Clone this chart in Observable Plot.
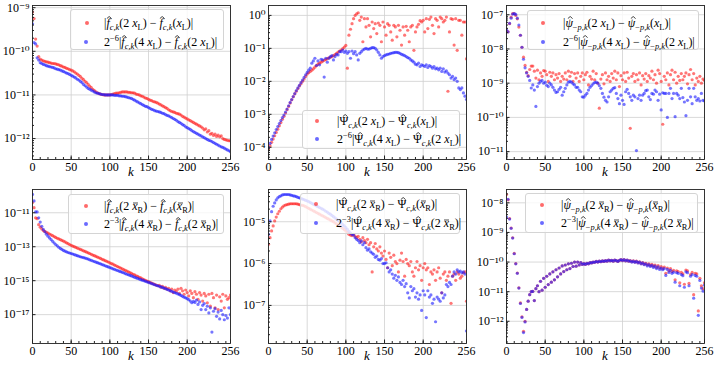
<!DOCTYPE html>
<html><head><meta charset="utf-8">
<script src="https://cdn.jsdelivr.net/npm/d3@7"></script>
<script src="https://cdn.jsdelivr.net/npm/@observablehq/plot@0.6"></script>
<style>
html,body{margin:0;padding:0;background:#fff;}
#root{position:relative;width:714px;height:369px;overflow:hidden;font-family:'Liberation Serif','DejaVu Serif',serif;color:#000;}
.panel{position:absolute;width:238px;height:184px;}
.panel svg{display:block;}
.legend{position:absolute;background:rgba(255,255,255,0.8);border:1px solid #d4d4d4;border-radius:3px;box-sizing:border-box;}
.row{position:absolute;white-space:nowrap;font-size:12px;line-height:1;transform:translateY(-50%);}
.row sub,.row sup{font-size:70%;line-height:0;}
.ht{position:relative;display:inline-block;}
.ht svg.hs{position:absolute;left:50%;top:-1px;transform:translateX(-30%);display:block;}
.ht svg.bs{position:absolute;left:50%;top:2px;transform:translateX(-40%);display:block;}
.dot{position:absolute;width:4px;height:4px;border-radius:50%;transform:translate(-50%,-50%);}
.klab{position:absolute;font-style:italic;font-size:13px;transform:translateX(-50%);}
</style>
</head><body><div id="root"></div>
<script>
// x ticks and mode index (every second mode k = 0,2,...,256)
const xTicks = [0, 50, 100, 150, 200, 256];
const xMinor = d3.range(0, 257, 10);
const kIdx = d3.range(0, 257, 2);

// ---- values are log10 of the plotted quantity ----
const p1Red = [-9.1,-9.25,-9.72,-9.88,-10.12,-10.18,-10.2,-10.22,-10.23,-10.24,
-10.25,-10.26,-10.27,-10.28,-10.28,-10.29,-10.3,-10.31,-10.33,-10.34,
-10.36,-10.37,-10.39,-10.4,-10.42,-10.43,-10.45,-10.47,-10.5,-10.52,
-10.55,-10.58,-10.62,-10.65,-10.69,-10.72,-10.76,-10.8,-10.83,-10.87,
-10.9,-10.93,-10.95,-10.97,-10.98,-10.99,-11.0,-11.0,-11.0,-11.0,
-11.0,-10.99,-10.98,-10.97,-10.96,-10.96,-10.95,-10.94,-10.93,-10.93,
-10.93,-10.93,-10.94,-10.94,-10.95,-10.95,-10.96,-10.98,-10.99,-11.0,
-11.02,-11.03,-11.05,-11.07,-11.08,-11.1,-11.12,-11.13,-11.15,-11.16,
-11.17,-11.19,-11.21,-11.23,-11.25,-11.27,-11.29,-11.31,-11.34,-11.36,
-11.38,-11.39,-11.4,-11.42,-11.43,-11.44,-11.46,-11.49,-11.51,-11.53,
-11.55,-11.57,-11.59,-11.61,-11.63,-11.65,-11.67,-11.69,-11.71,-11.73,
-11.76,-11.8,-11.78,-11.85,-11.82,-11.9,-11.88,-11.93,-11.9,-11.95,
-11.92,-11.96,-11.94,-12.0,-12.02,-12.03,-12.04,-12.05,-12.05];
const p1Blue = [-9.37,-9.8,-9.83,-10.15,-10.2,-10.26,-10.28,-10.3,-10.31,-10.33,
-10.34,-10.35,-10.36,-10.37,-10.38,-10.4,-10.41,-10.42,-10.43,-10.45,
-10.46,-10.48,-10.5,-10.51,-10.53,-10.55,-10.57,-10.59,-10.61,-10.64,
-10.66,-10.69,-10.72,-10.76,-10.79,-10.82,-10.85,-10.87,-10.89,-10.91,
-10.93,-10.95,-10.96,-10.97,-10.98,-10.99,-10.99,-11.0,-11.0,-11.0,
-11.0,-11.0,-11.0,-11.01,-11.01,-11.01,-11.02,-11.02,-11.03,-11.03,
-11.04,-11.05,-11.06,-11.07,-11.08,-11.1,-11.12,-11.14,-11.16,-11.18,
-11.2,-11.22,-11.24,-11.26,-11.27,-11.29,-11.31,-11.33,-11.34,-11.36,
-11.37,-11.38,-11.39,-11.4,-11.42,-11.43,-11.45,-11.47,-11.48,-11.5,
-11.52,-11.54,-11.56,-11.58,-11.61,-11.63,-11.65,-11.68,-11.7,-11.73,
-11.75,-11.77,-11.79,-11.82,-11.84,-11.86,-11.88,-11.9,-11.92,-11.94,
-11.96,-11.98,-12.0,-12.02,-12.04,-12.05,-12.07,-12.09,-12.11,-12.13,
-12.15,-12.17,-12.19,-12.2,-12.22,-12.24,-12.26,-12.28,-12.3];

const p2Red = [-4.05,-3.95,-3.85,-3.75,-3.65,-3.55,-3.45,-3.35,-3.25,-3.15,
-3.06,-2.96,-2.86,-2.76,-2.66,-2.56,-2.47,-2.38,-2.3,-2.22,
-2.14,-2.07,-2.0,-1.93,-1.85,-1.78,-1.74,-1.7,-1.66,-1.62,
-1.57,-1.52,-1.48,-1.45,-1.42,-1.39,-1.36,-1.34,-1.31,-1.29,
-1.27,-1.25,-1.22,-1.19,-1.15,-1.11,-1.08,-1.05,-1.01,-0.96,
-0.91,-1.6,-0.6,-0.42,-0.25,-0.1,0.0,0.05,0.08,-0.15,
-0.05,-0.8,-0.1,-0.35,-0.1,-0.3,-0.65,-0.2,-0.4,-0.25,
-0.55,-0.23,-0.3,-0.8,-0.2,-0.35,-0.6,-0.25,-0.3,-0.5,
-0.75,-0.3,-0.35,-0.65,-0.3,-0.45,-0.9,-0.35,-0.6,-0.33,
-0.45,-0.8,-0.35,-0.3,-1.06,-0.5,-0.35,-0.27,-0.16,-0.2,
-0.15,-0.5,-0.1,-0.4,-0.12,-0.05,-0.3,-0.55,-0.1,-0.15,
-0.35,-0.05,-0.1,-0.2,-0.15,-0.05,-2.3,-0.5,-0.1,-0.12,
-0.9,-0.1,-1.06,-0.15,-0.15,-0.6,-0.2,-0.2,-1.32];
const p2Blue = [-4.0,-3.88,-3.76,-3.66,-3.56,-3.46,-3.37,-3.28,-3.19,-3.1,
-3.02,-2.93,-2.84,-2.74,-2.64,-2.55,-2.46,-2.37,-2.28,-2.2,
-2.12,-2.04,-1.96,-1.88,-1.8,-1.73,-1.66,-1.6,-1.45,-1.38,
-1.3,-1.52,-1.38,-1.5,-1.33,-1.35,-1.87,-1.3,-1.42,-1.3,
-1.25,-1.22,-1.35,-1.25,-1.18,-1.2,-1.1,-1.1,-1.05,-1.12,
-1.08,-1.15,-1.1,-1.3,-1.08,-1.16,-1.1,-1.2,-1.35,-1.15,
-1.1,-1.05,-1.02,-1.0,-1.02,-1.02,-1.0,-0.98,-0.98,-1.0,
-1.05,-1.12,-1.2,-1.3,-1.25,-1.22,-1.2,-1.18,-1.17,-1.15,
-1.14,-1.13,-1.12,-1.12,-1.13,-1.15,-1.18,-1.2,-1.22,-1.25,
-1.28,-1.3,-1.35,-1.38,-1.42,-1.48,-1.5,-1.45,-1.55,-1.5,
-1.52,-1.55,-1.5,-1.58,-1.52,-1.55,-1.6,-1.55,-1.62,-1.6,
-1.65,-1.6,-1.7,-1.62,-1.72,-1.68,-1.75,-1.8,-1.9,-1.85,
-1.95,-1.9,-2.0,-2.2,-2.25,-2.2,-2.35,-2.45,-2.55];

const p3Red = [-7.46,-7.5,-7.26,-7.07,-6.97,-6.97,-7.02,-7.12,-7.36,-7.6,
-7.95,-8.24,-8.48,-8.68,-8.78,-8.6,-8.5,-8.5,-8.65,-8.85,
-8.62,-8.9,-8.7,-8.8,-8.63,-8.65,-8.75,-8.95,-8.68,-8.8,
-8.7,-8.9,-8.75,-8.85,-8.72,-8.95,-8.8,-8.88,-8.7,-8.9,
-8.65,-8.8,-8.68,-8.95,-8.72,-8.85,-8.7,-8.95,-8.8,-8.7,
-8.9,-8.75,-8.68,-9.05,-8.8,-8.88,-8.65,-8.9,-8.72,-9.0,
-9.73,-8.88,-8.75,-9.02,-8.7,-8.9,-8.8,-8.95,-8.72,-8.85,
-8.65,-8.9,-8.7,-9.1,-8.78,-8.9,-8.7,-8.95,-8.68,-8.85,
-10.32,-8.8,-8.72,-8.95,-8.75,-8.9,-8.7,-9.05,-8.78,-8.88,
-8.72,-8.95,-8.78,-8.85,-8.65,-8.9,-8.75,-9.0,-8.62,-8.72,
-8.95,-10.2,-8.8,-8.9,-8.7,-9.05,-8.75,-8.62,-8.9,-8.68,
-9.0,-8.8,-8.92,-8.72,-8.9,-8.8,-8.7,-9.02,-8.75,-8.6,
-8.9,-8.72,-9.05,-8.85,-8.95,-8.8,-9.0,-8.88,-8.92];
const p3Blue = [-7.44,-7.5,-7.25,-7.1,-6.98,-6.97,-6.99,-7.1,-7.3,-7.6,
-7.95,-8.3,-8.55,-8.7,-8.8,-8.92,-9.14,-9.05,-9.2,-9.68,
-9.1,-9.0,-8.95,-8.92,-9.0,-8.97,-9.06,-9.1,-9.0,-9.05,
-9.12,-9.2,-9.27,-9.25,-9.18,-9.12,-9.35,-9.25,-9.15,-9.05,
-8.97,-8.95,-8.97,-9.02,-9.05,-9.12,-9.12,-9.2,-9.25,-9.4,
-9.41,-9.35,-9.3,-9.2,-9.12,-9.07,-9.02,-8.98,-8.97,-9.0,
-9.07,-9.15,-9.3,-9.41,-9.5,-9.55,-9.4,-9.25,-9.2,-9.15,
-9.13,-9.3,-9.45,-9.6,-9.35,-9.5,-9.62,-9.25,-9.18,-9.3,
-9.4,-9.5,-9.35,-9.4,-10.97,-9.45,-9.35,-9.5,-9.35,-9.3,
-9.22,-9.2,-9.4,-9.48,-9.3,-9.32,-9.2,-9.25,-9.5,-9.32,
-9.78,-9.28,-9.3,-9.3,-10.0,-9.3,-9.15,-9.45,-9.3,-9.98,
-9.3,-9.35,-9.45,-9.15,-9.42,-9.55,-9.95,-9.5,-9.15,-9.4,
-9.6,-9.15,-9.4,-9.5,-9.45,-9.52,-9.3,-9.5,-9.52];

const p4Red = [-10.4,-10.7,-11.3,-11.35,-11.7,-11.85,-11.95,-12.05,-12.1,-12.15,
-12.2,-12.25,-12.3,-12.35,-12.4,-12.45,-12.5,-12.54,-12.58,-12.63,
-12.67,-12.72,-12.77,-12.82,-12.87,-12.92,-12.96,-13.0,-13.04,-13.08,
-13.12,-13.16,-13.2,-13.24,-13.28,-13.32,-13.36,-13.4,-13.45,-13.49,
-13.53,-13.57,-13.61,-13.65,-13.69,-13.74,-13.78,-13.82,-13.86,-13.9,
-13.95,-13.99,-14.03,-14.08,-14.12,-14.17,-14.21,-14.26,-14.3,-14.35,
-14.39,-14.44,-14.48,-14.53,-14.57,-14.62,-14.66,-14.71,-14.75,-14.8,
-14.84,-14.89,-14.93,-14.98,-15.02,-15.06,-15.1,-15.14,-15.18,-15.22,
-15.26,-15.3,-15.28,-15.38,-15.33,-15.45,-15.4,-15.5,-15.45,-15.6,
-15.5,-15.7,-15.55,-15.65,-15.5,-15.75,-15.45,-15.6,-15.8,-15.55,
-15.7,-15.9,-15.6,-15.75,-16.0,-15.65,-15.8,-16.1,-15.7,-15.85,
-16.2,-15.75,-15.9,-16.3,-15.8,-16.5,-15.75,-16.0,-16.6,-15.85,
-16.7,-15.95,-16.2,-15.8,-16.6,-15.9,-16.1,-16.0,-15.85];
const p4Blue = [-9.92,-10.3,-10.95,-10.95,-11.3,-11.55,-11.8,-11.98,-12.12,-12.26,
-12.38,-12.48,-12.58,-12.68,-12.78,-12.87,-12.95,-13.03,-13.1,-13.16,
-13.22,-13.26,-13.3,-13.34,-13.37,-13.4,-13.43,-13.46,-13.5,-13.53,
-13.56,-13.59,-13.62,-13.64,-13.67,-13.7,-13.73,-13.77,-13.8,-13.84,
-13.87,-13.91,-13.94,-13.98,-14.01,-14.05,-14.08,-14.12,-14.16,-14.19,
-14.23,-14.26,-14.3,-14.33,-14.37,-14.4,-14.44,-14.47,-14.51,-14.54,
-14.58,-14.62,-14.65,-14.69,-14.72,-14.76,-14.8,-14.83,-14.87,-14.9,
-14.94,-14.97,-15.0,-15.04,-15.07,-15.1,-15.13,-15.17,-15.2,-15.24,
-15.27,-15.3,-15.33,-15.37,-15.4,-15.43,-15.47,-15.51,-15.55,-15.59,
-15.63,-15.67,-15.7,-15.74,-15.78,-15.82,-15.87,-15.92,-15.97,-16.01,
-16.06,-16.12,-16.2,-16.3,-16.22,-16.28,-16.15,-16.4,-16.25,-16.7,
-16.45,-16.35,-16.7,-16.5,-16.9,-16.6,-18.03,-16.8,-16.65,-17.1,
-16.85,-17.25,-16.75,-17.0,-17.3,-17.05,-17.2,-16.6,-17.0];

const p5Red = [-5.54,-5.38,-5.22,-5.1,-4.98,-4.89,-4.81,-4.75,-4.69,-4.65,
-4.62,-4.6,-4.59,-4.58,-4.57,-4.57,-4.57,-4.57,-4.57,-4.58,
-4.59,-4.6,-4.61,-4.62,-4.64,-4.66,-4.68,-4.7,-4.72,-4.74,
-4.76,-4.78,-4.8,-4.82,-4.84,-4.86,-4.88,-4.9,-4.92,-4.94,
-4.96,-4.98,-5.0,-5.03,-5.05,-5.08,-5.1,-5.13,-5.16,-5.19,
-5.22,-5.26,-5.3,-5.32,-5.33,-5.3,-5.35,-5.38,-5.35,-5.42,
-5.48,-5.38,-5.45,-5.5,-5.42,-5.55,-5.5,-6.2,-5.6,-5.52,
-5.65,-5.7,-5.6,-5.75,-5.82,-5.7,-5.9,-6.1,-5.75,-5.85,
-6.05,-5.8,-5.95,-6.0,-6.2,-5.92,-5.75,-5.95,-6.3,-5.9,
-6.0,-6.05,-5.95,-6.2,-6.3,-6.1,-5.95,-6.15,-6.05,-6.4,
-6.1,-6.0,-6.15,-6.1,-6.5,-6.2,-6.25,-6.15,-6.4,-6.2,
-6.1,-6.35,-6.7,-6.25,-6.2,-6.4,-6.3,-6.2,-6.95,-6.3,
-6.25,-6.4,-6.2,-6.25,-6.35,-6.3,-6.22,-6.2,-6.9];
const p5Blue = [-5.3,-4.98,-4.76,-4.63,-4.55,-4.48,-4.43,-4.4,-4.38,-4.36,
-4.35,-4.35,-4.35,-4.35,-4.36,-4.37,-4.38,-4.39,-4.4,-4.42,
-4.43,-4.44,-4.46,-4.47,-4.49,-4.5,-4.52,-4.54,-4.56,-4.58,
-4.6,-4.62,-4.64,-4.66,-4.68,-4.7,-4.72,-4.75,-4.77,-4.8,
-4.82,-4.85,-4.88,-4.91,-4.94,-4.97,-5.0,-5.03,-5.07,-5.1,
-5.14,-5.18,-5.23,-5.27,-5.3,-5.32,-5.38,-5.42,-5.45,-5.5,
-5.46,-5.55,-5.5,-5.62,-5.68,-5.65,-5.72,-5.75,-5.78,-5.85,
-5.82,-5.9,-5.92,-5.88,-6.0,-6.0,-5.98,-6.1,-6.2,-6.15,
-6.25,-6.35,-6.28,-6.4,-6.32,-6.45,-6.5,-6.4,-6.55,-6.48,
-6.7,-6.82,-6.55,-6.65,-6.6,-6.8,-6.7,-6.85,-6.75,-7.12,
-6.65,-6.75,-7.29,-6.65,-6.8,-6.75,-6.95,-6.85,-7.39,-6.8,
-6.85,-6.9,-6.7,-6.82,-6.75,-6.5,-6.55,-6.45,-6.5,-6.3,
-6.2,-6.25,-6.15,-6.2,-6.18,-6.22,-6.2,-6.25,-7.61];

const p6Red = [-7.72,-7.9,-8.53,-8.85,-9.18,-9.71,-10.05,-10.37,-10.87,-11.38,
-11.85,-12.34,-12.0,-11.6,-11.32,-11.1,-11.0,-10.99,-11.3,-10.9,
-10.8,-11.0,-10.65,-10.95,-10.55,-10.85,-10.48,-10.76,-10.4,-10.68,
-10.33,-10.6,-10.26,-10.5,-10.2,-10.4,-10.13,-10.32,-10.1,-10.26,
-10.06,-10.22,-10.04,-10.15,-10.0,-10.14,-10.0,-10.1,-10.02,-10.08,
-10.05,-10.08,-10.04,-10.06,-10.02,-10.03,-10.0,-10.01,-9.98,-10.0,
-9.97,-9.99,-9.96,-9.98,-9.95,-9.97,-9.93,-9.96,-9.94,-9.97,
-9.93,-9.95,-9.98,-9.94,-9.92,-9.95,-9.92,-9.96,-9.93,-9.97,
-9.95,-9.99,-9.96,-10.0,-9.97,-10.02,-9.99,-10.05,-10.02,-10.07,
-10.04,-10.1,-10.06,-10.12,-10.08,-10.14,-10.1,-10.18,-10.12,-10.2,
-10.15,-10.22,-10.17,-10.38,-10.2,-10.3,-10.22,-10.32,-10.28,-10.6,
-10.3,-10.32,-10.7,-10.35,-10.4,-10.75,-10.27,-10.3,-10.72,-10.42,
-10.35,-11.1,-10.38,-10.4,-11.65,-10.55,-10.8,-10.9,-10.7];
const p6Blue = [-8.48,-7.88,-8.55,-8.86,-9.19,-9.72,-10.06,-10.38,-10.88,-11.4,
-11.87,-12.38,-12.02,-11.6,-11.32,-11.1,-11.0,-10.99,-11.3,-10.9,
-10.8,-11.0,-10.65,-10.95,-10.55,-10.85,-10.48,-10.76,-10.4,-10.68,
-10.33,-10.6,-10.26,-10.5,-10.2,-10.4,-10.13,-10.32,-10.1,-10.26,
-10.06,-10.22,-10.04,-10.15,-10.0,-10.14,-10.0,-10.1,-10.02,-10.08,
-10.05,-10.08,-10.04,-10.06,-10.02,-10.03,-10.0,-10.01,-9.98,-10.0,
-9.97,-9.99,-9.96,-9.98,-9.95,-9.97,-9.93,-9.96,-9.94,-9.97,
-9.93,-9.95,-9.98,-9.94,-9.92,-9.95,-9.92,-9.96,-9.93,-9.97,
-9.96,-10.0,-9.97,-10.01,-9.98,-10.03,-10.0,-10.06,-10.03,-10.09,
-10.06,-10.13,-10.09,-10.15,-10.11,-10.18,-10.14,-10.22,-10.16,-10.25,
-10.2,-10.26,-10.22,-10.45,-10.25,-10.35,-10.28,-10.38,-10.34,-10.68,
-10.36,-10.38,-10.8,-10.42,-10.46,-10.85,-10.33,-10.36,-10.8,-10.48,
-10.42,-11.22,-10.45,-10.48,-11.8,-10.62,-10.88,-10.98,-10.78];

// y tick exponents per panel
const p1Ticks = [-12,-11,-10,-9];
const p2Ticks = [-4,-3,-2,-1,0];
const p3Ticks = [-11,-10,-9,-8,-7];
const p4Ticks = [-17,-15,-13,-11];
const p5Ticks = [-7,-6,-5];
const p6Ticks = [-12,-11,-10,-9,-8];

// legend labels (hat and bar accents drawn as tiny vector shapes)
const HAT = '<svg class="hs" width="6" height="3" viewBox="0 0 6 3"><path d="M0.6,2.6L3,0.5L5.4,2.6" fill="none" stroke="#000" stroke-width="0.75"/></svg>';
const BAR = '<svg class="bs" width="5" height="2" viewBox="0 0 5 2"><path d="M0,1H5" stroke="#000" stroke-width="0.7"/></svg>';
const hat = (s, it) => `<span class="ht">${it ? "<i>" + s + "</i>" : s}${HAT}</span>`;
const bar = s => `<span class="ht"><i>${s}</i>${BAR}</span>`;
const fh = hat("f", true), Ph = hat("Ψ", false), ph = hat("ψ", true);
const ck = "<sub><i>c,k</i></sub>", pk = "<sub>−<i>p,k</i></sub>";
const xL = "<i>x</i><sub>L</sub>", xR = bar("x") + "<sub>R</sub>";
const mk = (F, s, X, e) => [
  `|${F}${s}(2 ${X}) − ${F}${s}(${X})|`,
  `2<sup>−${e}</sup>|${F}${s}(4 ${X}) − ${F}${s}(2 ${X})|`
];
const fL = mk(fh, ck, xL, 6), PL = mk(Ph, ck, xL, 6), pL = mk(ph, pk, xL, 6);
const fR = mk(fh, ck, xR, 3), PR = mk(Ph, ck, xR, 3), pR = mk(ph, pk, xR, 3);

const panels = [
  {left:0,   top:0,   red:p1Red, blue:p1Blue, lo:-12.48, hi:-8.95, ticks:p1Ticks, minor:true,  lab:fL, lg:{x:70,y:9,w:154,h:41,d1:[16,12.7],d2:[15,31.7],tx:33}},
  {left:236, top:0,   red:p2Red, blue:p2Blue, lo:-4.37,  hi:0.30,  ticks:p2Ticks, minor:true,  lab:PL, lg:{x:66,y:110,w:158,h:39,d1:[14,9.5],d2:[14,27.5],tx:34}},
  {left:474, top:0,   red:p3Red, blue:p3Blue, lo:-11.23, hi:-6.73, ticks:p3Ticks, minor:true,  lab:pL, lg:{x:53,y:10,w:172,h:40,d1:[15,12],d2:[15,30.7],tx:35}},
  {left:0,   top:184, red:p4Red, blue:p4Blue, lo:-18.7,  hi:-9.63, ticks:p4Ticks, minor:false, lab:fR, lg:{x:68,y:10,w:156,h:40,d1:[17,11],d2:[17,29],tx:35}},
  {left:236, top:184, red:p5Red, blue:p5Blue, lo:-7.91,  hi:-4.23, ticks:p5Ticks, minor:true,  lab:PR, lg:{x:64,y:9,w:160,h:41,d1:[15,10],d2:[15,28.5],tx:35}},
  {left:474, top:184, red:p6Red, blue:p6Blue, lo:-12.75, hi:-7.55, ticks:p6Ticks, minor:true,  lab:pR, lg:{x:51,y:9,w:173,h:40,d1:[16,11],d2:[16,29],tx:35}}
];

const SUP = {"-":"⁻","0":"⁰","1":"¹","2":"²","3":"³","4":"⁴","5":"⁵","6":"⁶","7":"⁷","8":"⁸","9":"⁹"};
const fmt = d => "10" + String(Math.round(Math.log10(d))).split("").map(c => SUP[c]).join("");
const blank = () => "";

const RED = "#ff1a1a", BLUE = "#1a1aff";
const FONT = "'Liberation Serif', 'DejaVu Serif', serif";
const root = document.getElementById("root");

for (const p of panels) {
  const red = p.red.map((v, i) => ({k: kIdx[i], y: Math.pow(10, v)}));
  const blue = p.blue.map((v, i) => ({k: kIdx[i], y: Math.pow(10, v)}));
  const yTicks = p.ticks.map(e => Math.pow(10, e));
  const yMinor = [];
  if (p.minor) {
    for (let e = Math.floor(p.lo); e <= Math.ceil(p.hi); e++)
      for (let m = 2; m <= 9; m++) {
        const v = m * Math.pow(10, e);
        if (Math.log10(v) > p.lo && Math.log10(v) < p.hi) yMinor.push(v);
      }
  }
  const svg = Plot.plot({
    width: 238, height: 184,
    marginLeft: 32, marginRight: 8, marginTop: 5, marginBottom: 25,
    style: {fontFamily: FONT, fontSize: "12px", color: "#000", background: "transparent", overflow: "visible"},
    x: {domain: [0, 256]},
    y: {type: "log", domain: [Math.pow(10, p.lo), Math.pow(10, p.hi)]},
    marks: [
      Plot.gridX(xTicks, {stroke: "#cfcfcf", strokeOpacity: 1, strokeWidth: 0.8}),
      Plot.gridY(yTicks, {stroke: "#cfcfcf", strokeOpacity: 1, strokeWidth: 0.8}),
      Plot.dot(red, {x: "k", y: "y", r: 1.6, fill: RED, fillOpacity: 0.6, clip: true}),
      Plot.dot(blue, {x: "k", y: "y", r: 1.6, fill: BLUE, fillOpacity: 0.6, clip: true}),
      // inward ticks
      Plot.axisX(xTicks, {tickSize: 3.5, dy: -3.5, tickFormat: blank, label: null, stroke: "#222"}),
      Plot.axisX(xMinor, {tickSize: 2, dy: -2, tickFormat: blank, label: null, stroke: "#222"}),
      Plot.axisY(yTicks, {tickSize: 3.5, dx: 3.5, tickFormat: blank, label: null, stroke: "#222"}),
      ...(yMinor.length ? [Plot.axisY(yMinor, {tickSize: 2, dx: 2, tickFormat: blank, label: null, stroke: "#222"})] : []),
      // labels
      Plot.axisX(xTicks, {tickSize: 0, tickPadding: 3, label: null, fontSize: 12, fontFamily: FONT}),
      Plot.axisY(yTicks, {tickSize: 0, tickPadding: 3, label: null, tickFormat: fmt, fontSize: 12, fontFamily: FONT}),
      Plot.frame({stroke: "#222", strokeWidth: 0.9})
    ]
  });
  const div = document.createElement("div");
  div.className = "panel";
  div.style.left = p.left + "px";
  div.style.top = p.top + "px";
  div.appendChild(svg);

  // legend
  const lg = document.createElement("div");
  lg.className = "legend";
  Object.assign(lg.style, {left: p.lg.x + "px", top: p.lg.y + "px", width: p.lg.w + "px", height: p.lg.h + "px"});
  [[p.lg.d1, RED, p.lab[0]], [p.lg.d2, BLUE, p.lab[1]]].forEach(([d, c, t]) => {
    const dot = document.createElement("div");
    dot.className = "dot";
    Object.assign(dot.style, {left: d[0] + "px", top: d[1] + "px", background: c, opacity: 0.65});
    lg.appendChild(dot);
    const row = document.createElement("div");
    row.className = "row";
    Object.assign(row.style, {left: p.lg.tx + "px", top: d[1] + "px"});
    row.innerHTML = t;
    lg.appendChild(row);
  });
  div.appendChild(lg);

  const kl = document.createElement("div");
  kl.className = "klab";
  Object.assign(kl.style, {left: "131px", top: "164px"});
  kl.textContent = "k";
  div.appendChild(kl);

  root.appendChild(div);
}
</script>
</body></html>
